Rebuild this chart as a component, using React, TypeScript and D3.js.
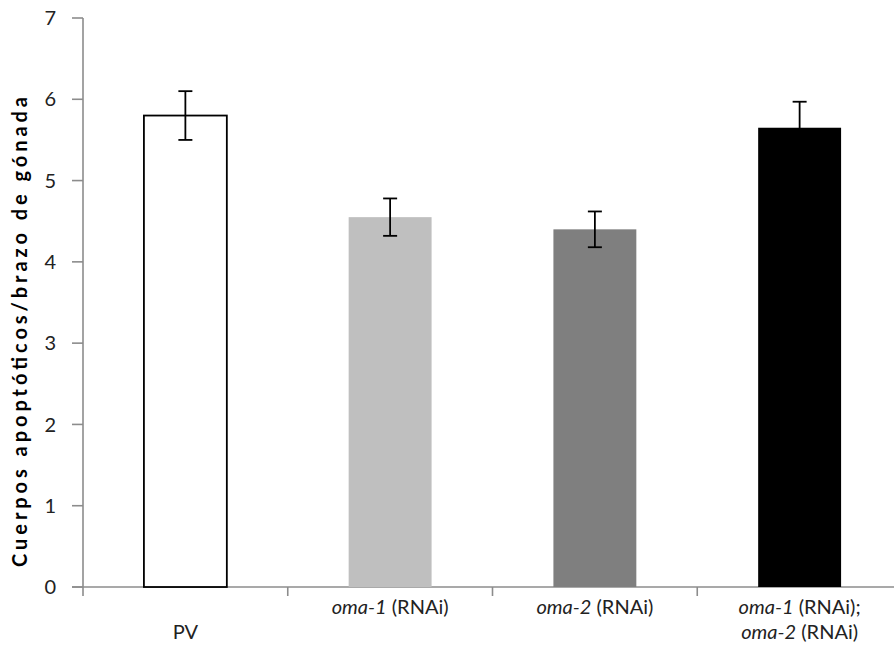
import React from "react";
import * as d3 from "d3";

// data
const categories = ["PV", "oma-1", "oma-2", "oma-1;oma-2"];
const means = [5.8, 4.55, 4.4, 5.65];
const errors = [0.3, 0.23, 0.22, 0.32];
const fills = ["#ffffff", "#bfbfbf", "#7f7f7f", "#000000"];
const yTicks = [0, 1, 2, 3, 4, 5, 6, 7];

// label lines: [italic part, plain part]; PV sits on the second line
const labelLines: [string, string][][] = [
  [["", ""], ["", "PV"]],
  [["oma-1", " (RNAi)"]],
  [["oma-2", " (RNAi)"]],
  [["oma-1", " (RNAi);"], ["oma-2", " (RNAi)"]],
];

const W = 894, H = 652;
const margin = { top: 18, right: -8, bottom: 65, left: 83 };

export default function App() {
  const y = d3.scaleLinear().domain([0, 7]).range([H - margin.bottom, margin.top]);
  const x = d3.scaleBand().domain(categories).range([margin.left, W - margin.right]).padding(0);
  const bw = x.bandwidth() * 0.405;
  const axisColor = "#8c8c8c";
  const font = "Lato, 'Open Sans', sans-serif";

  return (
    <svg width={W} height={H} style={{ position: "absolute", left: 0, top: 0, background: "#fff" }}>
      {/* y axis */}
      <line x1={margin.left} x2={margin.left} y1={y(7)} y2={y(0)} stroke={axisColor} strokeWidth={1.6} />
      {yTicks.map((t) => (
        <g key={t}>
          <line x1={margin.left - 11} x2={margin.left} y1={y(t)} y2={y(t)} stroke={axisColor} strokeWidth={1.6} />
          <text x={56} y={y(t)} dy="0.36em" textAnchor="end" fontFamily={font} fontSize={20} fill="#222">
            {t}
          </text>
        </g>
      ))}
      {/* x axis */}
      <line x1={margin.left - 11} x2={W} y1={y(0)} y2={y(0)} stroke={axisColor} strokeWidth={1.6} />
      {categories.map((c) => (
        <line key={c} x1={x(c)!} x2={x(c)!} y1={y(0)} y2={y(0) + 9} stroke={axisColor} strokeWidth={1.6} />
      ))}
      {/* bars */}
      {categories.map((c, i) => {
        const cx = x(c)! + x.bandwidth() / 2;
        return (
          <g key={c}>
            <rect
              x={cx - bw / 2}
              y={y(means[i])}
              width={bw}
              height={y(0) - y(means[i])}
              fill={fills[i]}
              stroke={i === 0 ? "#000" : "none"}
              strokeWidth={1.8}
            />
            <line x1={cx} x2={cx} y1={y(means[i] + errors[i])} y2={y(means[i] - errors[i])} stroke="#000" strokeWidth={1.8} />
            <line x1={cx - 7} x2={cx + 7} y1={y(means[i] + errors[i])} y2={y(means[i] + errors[i])} stroke="#000" strokeWidth={1.8} />
            <line x1={cx - 7} x2={cx + 7} y1={y(means[i] - errors[i])} y2={y(means[i] - errors[i])} stroke="#000" strokeWidth={1.8} />
          </g>
        );
      })}
      {/* category labels */}
      {categories.map((c, i) => {
        const cx = x(c)! + x.bandwidth() / 2;
        return (
          <text key={c} textAnchor="middle" fontFamily={font} fontSize={20} fill="#222">
            {labelLines[i].map((ln, j) => (
              <tspan key={j} x={cx} y={614 + j * 25}>
                <tspan fontStyle="italic">{ln[0]}</tspan>
                {ln[1]}
              </tspan>
            ))}
          </text>
        );
      })}
      {/* y title */}
      <text
        transform="translate(27, 332) rotate(-90)"
        textAnchor="middle"
        fontFamily={font}
        fontSize={20}
        fontWeight="bold"
        fill="#000"
        textLength={470}
        lengthAdjust="spacing"
      >
        Cuerpos apoptóticos/brazo  de gónada
      </text>
    </svg>
  );
}
